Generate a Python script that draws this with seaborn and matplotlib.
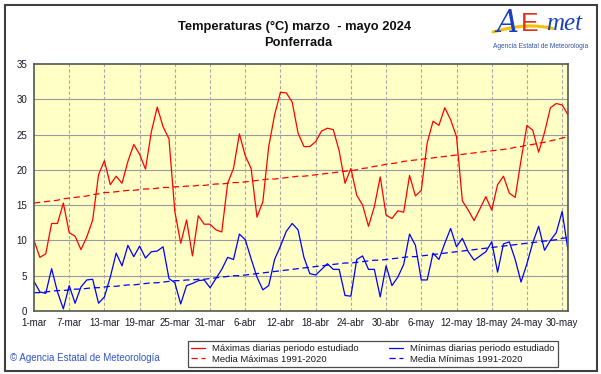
import matplotlib
matplotlib.use("Agg")
import matplotlib.pyplot as plt
import seaborn as sns
import pandas as pd
import numpy as np
from matplotlib.patches import Rectangle

# ---------------- data ----------------
tick_labels = ["1-mar", "7-mar", "13-mar", "19-mar", "25-mar", "31-mar", "6-abr",
               "12-abr", "18-abr", "24-abr", "30-abr", "6-may", "12-may", "18-may",
               "24-may", "30-may"]

max_daily = [10.0, 7.6, 8.1, 12.4, 12.4, 15.3, 11.1, 10.6, 8.7, 10.5,
             12.9, 19.3, 21.3, 17.9, 19.1, 18.1, 21.2, 23.6, 22.2, 20.1,
             25.4, 28.9, 26.1, 24.4, 14.1, 9.6, 12.9, 7.8, 13.5, 12.3,
             12.3, 11.5, 11.2, 18.1, 20.2, 25.1, 22.0, 20.2, 13.3, 15.5,
             23.3, 27.8, 31.0, 30.9, 29.6, 25.2, 23.3, 23.3, 24.0, 25.5,
             25.9, 25.7, 22.7, 18.1, 20.2, 16.4, 15.0, 12.0, 14.8, 19.0,
             13.6, 13.1, 14.2, 14.0, 19.2, 16.3, 17.1, 23.8, 26.9, 26.3,
             28.8, 27.1, 24.7, 15.6, 14.3, 12.8, 14.5, 16.2, 14.3, 17.9,
             19.1, 16.7, 16.1, 21.4, 26.3, 25.6, 22.5, 25.3, 28.8, 29.4,
             29.2, 27.8]

min_daily = [4.2, 2.7, 2.5, 6.0, 2.7, 0.3, 3.6, 1.1, 3.4, 4.4,
             4.5, 1.1, 2.0, 4.8, 8.2, 6.4, 9.3, 7.7, 9.2, 7.5,
             8.4, 8.5, 9.1, 4.6, 4.0, 1.0, 3.6, 3.9, 4.3, 4.4,
             3.3, 4.6, 5.9, 7.6, 7.3, 10.9, 10.1, 7.4, 4.8, 3.0,
             3.6, 7.3, 9.2, 11.3, 12.4, 11.5, 7.6, 5.3, 5.1, 5.9,
             6.7, 5.9, 5.9, 2.2, 2.1, 7.3, 7.8, 5.9, 5.9, 2.0,
             6.4, 3.6, 4.8, 6.6, 10.9, 9.3, 4.4, 4.4, 8.2, 7.3,
             9.6, 11.7, 9.1, 10.3, 8.4, 7.2, 7.8, 8.4, 9.8, 5.5,
             9.5, 9.8, 7.3, 4.1, 6.7, 9.7, 12.0, 8.6, 10.0, 11.1,
             14.1, 8.6]

max_normal = [15.3, 15.4, 15.5, 15.6, 15.7, 15.9, 16.0, 16.1, 16.2, 16.3,
              16.5, 16.6, 16.8, 16.8, 16.9, 17.0, 17.1, 17.1, 17.2, 17.3,
              17.3, 17.4, 17.5, 17.5, 17.6, 17.6, 17.7, 17.7, 17.8, 17.8,
              17.9, 18.0, 18.0, 18.1, 18.2, 18.2, 18.3, 18.4, 18.5, 18.6,
              18.7, 18.7, 18.8, 18.9, 19.0, 19.1, 19.1, 19.2, 19.3, 19.4,
              19.5, 19.6, 19.7, 19.8, 19.9, 20.0, 20.2, 20.3, 20.5, 20.6,
              20.8, 20.9, 21.0, 21.2, 21.3, 21.4, 21.5, 21.6, 21.7, 21.8,
              21.9, 22.0, 22.1, 22.2, 22.3, 22.4, 22.5, 22.6, 22.7, 22.8,
              22.9, 23.0, 23.2, 23.3, 23.5, 23.6, 23.8, 23.9, 24.1, 24.3,
              24.5, 24.7]

min_normal = [2.6, 2.6, 2.7, 2.8, 2.9, 2.9, 3.0, 3.1, 3.1, 3.2,
              3.3, 3.3, 3.4, 3.5, 3.5, 3.6, 3.7, 3.7, 3.8, 3.9,
              4.0, 4.0, 4.1, 4.2, 4.3, 4.3, 4.4, 4.4, 4.5, 4.5,
              4.6, 4.7, 4.8, 4.9, 5.0, 5.0, 5.1, 5.2, 5.3, 5.4,
              5.5, 5.6, 5.7, 5.8, 5.9, 6.0, 6.1, 6.2, 6.3, 6.4,
              6.5, 6.6, 6.7, 6.8, 6.8, 6.9, 7.0, 7.1, 7.2, 7.2,
              7.3, 7.4, 7.5, 7.6, 7.7, 7.7, 7.8, 7.9, 8.0, 8.1,
              8.2, 8.3, 8.4, 8.5, 8.6, 8.7, 8.8, 8.9, 9.0, 9.1,
              9.2, 9.3, 9.4, 9.5, 9.6, 9.7, 9.8, 9.9, 10.0, 10.1,
              10.3, 10.4]

labels = ["Máximas diarias periodo estudiado", "Media Máximas 1991-2020",
          "Mínimas diarias periodo estudiado", "Media Mínimas 1991-2020"]

day = np.arange(len(max_daily))
df = pd.DataFrame({"day": day, "max": max_daily, "min": min_daily,
                   "maxn": max_normal, "minn": min_normal})

# ---------------- style ----------------
sns.set_theme(style="white")
plt.rcParams["font.family"] = ["Liberation Sans", "DejaVu Sans"]

fig = plt.figure(figsize=(6.01, 3.74), dpi=100)
fig.patch.set_facecolor("white")
ax = fig.add_axes([34 / 601, 1 - 311 / 374, (568 - 34) / 601, (311 - 64) / 374])
ax.set_facecolor("#ffffc6")

RED = "#ff0000"
BLUE = "#0000ff"

sns.lineplot(data=df, x="day", y="max", color=RED, lw=0.9, ax=ax, label=labels[0])
sns.lineplot(data=df, x="day", y="maxn", color=RED, lw=0.9, ax=ax, label=labels[1])
sns.lineplot(data=df, x="day", y="min", color=BLUE, lw=0.9, ax=ax, label=labels[2])
sns.lineplot(data=df, x="day", y="minn", color=BLUE, lw=0.9, ax=ax, label=labels[3])
lines = ax.get_lines()
lines[1].set_dashes((5, 3))
lines[3].set_dashes((5, 3))

ax.set_xlim(0, len(day) - 1)
ax.set_ylim(0, 35)
ax.set_xticks(np.arange(0, len(day), 6)[:len(tick_labels)])
ax.set_xticklabels(tick_labels)
ax.set_yticks(np.arange(0, 36, 5))
ax.set_xlabel("")
ax.set_ylabel("")
ax.tick_params(axis="both", length=0, labelsize=7, colors="#1a1a2a")
ax.tick_params(axis="x", pad=5)
ax.tick_params(axis="y", pad=5)

for y in np.arange(5, 35, 5):
    ax.axhline(y, color="#9a9aa6", lw=0.8, zorder=0.5)
for x in np.arange(6, len(day), 6):
    ax.axvline(x, color="#a8a8a8", lw=0.8, ls=(0, (3, 2)), zorder=0.5)

for s in ax.spines.values():
    s.set_color("#4f5a4f")
    s.set_linewidth(1.2)

# legend
h, l = ax.get_legend_handles_labels()
leg = fig.legend(h, l, loc="lower left",
                 bbox_to_anchor=(188 / 601, 1 - 367 / 374, (558 - 188) / 601, 29 / 374),
                 mode="expand", ncol=2, fontsize=6.8, frameon=True, fancybox=False,
                 borderaxespad=0, handlelength=1.4, handletextpad=0.8,
                 labelspacing=0.15, borderpad=0.35, columnspacing=2.0)
leg.get_frame().set_edgecolor("#202020")
leg.get_frame().set_linewidth(0.9)
for t in leg.get_texts():
    t.set_color("#1a1a1a")
if ax.get_legend():
    ax.get_legend().remove()

# title
fig.text(295 / 601, 1 - 27 / 374, "Temperaturas (°C) marzo  - mayo 2024",
         ha="center", va="center", fontsize=9.3, fontweight="bold", color="#101010")
fig.text(298 / 601, 1 - 43 / 374, "Ponferrada", ha="center", va="center",
         fontsize=9.3, fontweight="bold", color="#101010")

# footer
fig.text(10 / 601, 1 - 358 / 374, "© Agencia Estatal de Meteorología", ha="left",
         va="center", fontsize=7, color="#3355cc")

# logo
fig.text(507 / 601, 1 - 24 / 374, "A", ha="center", va="center", fontsize=22,
         color="#1a3fbf", style="italic", family=["DejaVu Serif"])
fig.text(530 / 601, 1 - 24 / 374, "E", ha="center", va="center", fontsize=19,
         color="#e03020", family=["Liberation Sans"])
fig.text(564 / 601, 1 - 24 / 374, "met", ha="center", va="center", fontsize=18,
         color="#1a3fbf", style="italic", family=["Liberation Serif"])
t_sw = np.linspace(0, 1, 30)
fig.add_artist(plt.Line2D((493 + 60 * t_sw) / 601,
                          1 - (32 - 6 * np.sin(np.pi * t_sw * 0.8)) / 374,
                          color="#f5c000", lw=2.2, transform=fig.transFigure))
fig.text(541 / 601, 1 - 47 / 374, "Agencia Estatal de Meteorología", ha="center",
         va="center", fontsize=4.8, color="#3355aa")

# outer frame
fig.add_artist(Rectangle((4.5 / 601, 3.5 / 374), 592 / 601, 366 / 374,
                         transform=fig.transFigure, fill=False,
                         edgecolor="#404040", lw=1.5))

fig.savefig("out.png", dpi=100, facecolor="white")
